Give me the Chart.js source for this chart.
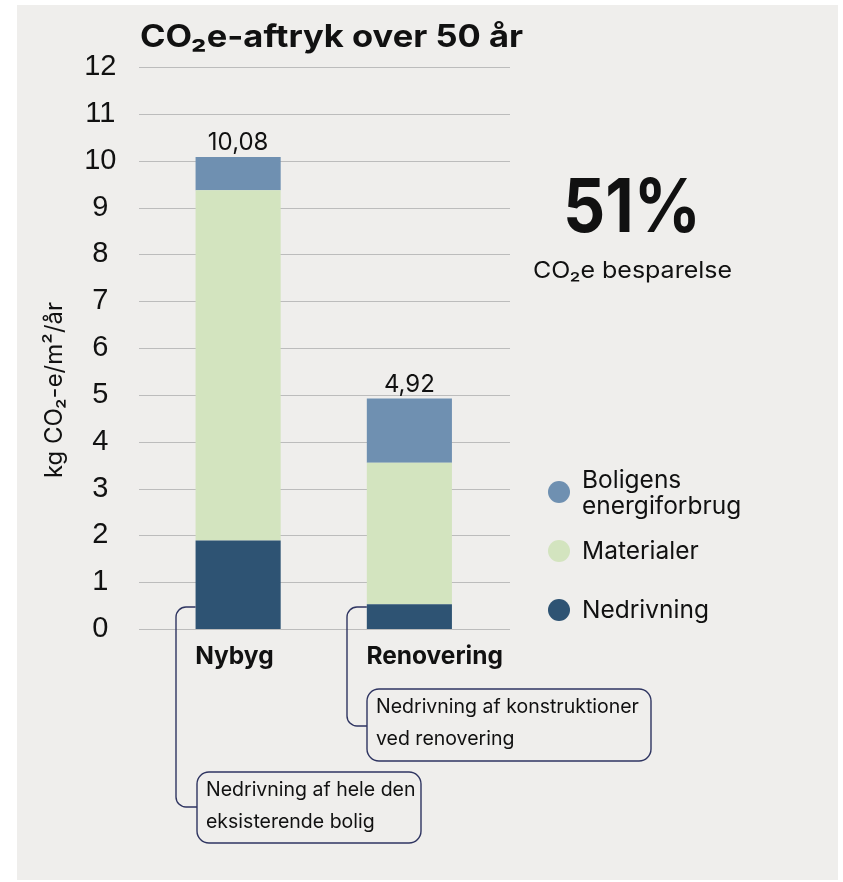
<!DOCTYPE html>
<html>
<head>
<meta charset="utf-8">
<script src="https://cdn.jsdelivr.net/npm/chart.js@4.4.1/dist/chart.umd.min.js"></script>
<style>
  html, body { margin: 0; padding: 0; background: #ffffff; }
  canvas { display: block; }
</style>
</head>
<body>
<canvas id="c" width="843" height="882"></canvas>
<script>
// Categories and stacked components (kg CO2-e/m²/år)
const categories = ['Nybyg', 'Renovering'];
const nedrivning = [1.89, 0.53];
const materialer = [7.48, 3.02];
const energi     = [0.71, 1.37];
const yTicks     = [0, 1, 2, 3, 4, 5, 6, 7, 8, 9, 10, 11, 12];
const seriesNames = ['Nedrivning', 'Materialer', 'Boligens energiforbrug'];
const legendLines = [['Nedrivning'], ['Materialer'], ['Boligens', 'energiforbrug']];
const savingText = '51%';
const savingLabel = 'CO\u2082e besparelse';
const titleText = 'CO\u2082e-aftryk over 50 år';
const axisTitle = 'kg CO\u2082-e/m\u00B2/år';
const notes = [
  ['Nedrivning af hele den', 'eksisterende bolig'],
  ['Nedrivning af konstruktioner', 'ved renovering']
];

const colors = ['#2e5373', '#d3e4bf', '#6f90b1'];
const BG = '#efeeec';
const INK = '#111111';
const NAVY = '#2f3561';
const FONT = 'Inter, "Liberation Sans", sans-serif';

const totals = categories.map((_, i) => nedrivning[i] + materialer[i] + energi[i]);
const fmt = v => v.toFixed(2).replace('.', ',');

// Draw text left-aligned at x, stretched horizontally to a given width
function fitText(ctx, text, x, y, width) {
  const w = ctx.measureText(text).width;
  ctx.save();
  ctx.translate(x, y);
  ctx.scale(width / w, 1);
  ctx.textAlign = 'left';
  ctx.fillText(text, 0, 0);
  ctx.restore();
}

// Panel background, gridlines, title, annotations
const backdrop = {
  id: 'backdrop',
  beforeDraw(chart) {
    const ctx = chart.ctx;
    ctx.save();
    ctx.fillStyle = '#ffffff';
    ctx.fillRect(0, 0, chart.width, chart.height);
    ctx.fillStyle = BG;
    ctx.fillRect(17, 5, 821, 875);
    ctx.restore();
  },
  beforeDatasetsDraw(chart) {
    const ctx = chart.ctx;
    const y = chart.scales.y;
    ctx.save();
    ctx.strokeStyle = '#bcbcbc';
    ctx.lineWidth = 1;
    yTicks.forEach(t => {
      const py = Math.round(y.getPixelForValue(t)) + 0.5;
      ctx.beginPath();
      ctx.moveTo(139, py);
      ctx.lineTo(510, py);
      ctx.stroke();
    });
    ctx.restore();
  },
  afterDraw(chart) {
    const ctx = chart.ctx;
    const y = chart.scales.y;
    ctx.save();
    // Title
    ctx.fillStyle = INK;
    ctx.textBaseline = 'alphabetic';
    ctx.font = 'bold 31px ' + FONT;
    fitText(ctx, titleText, 140, 47, 383);

    // Axis title (rotated)
    ctx.save();
    ctx.translate(62, 390);
    ctx.rotate(-Math.PI / 2);
    ctx.textAlign = 'center';
    ctx.font = '24px ' + FONT;
    ctx.fillText(axisTitle, 0, 0);
    ctx.restore();

    // Totals above the bars
    const meta = chart.getDatasetMeta(chart.data.datasets.length - 1);
    ctx.font = '24px ' + FONT;
    ctx.textAlign = 'center';
    totals.forEach((t, i) => {
      const bar = meta.data[i];
      ctx.fillText(fmt(t), bar.x, y.getPixelForValue(t) - 7);
    });

    // Saving figure
    ctx.font = 'bold 74px ' + FONT;
    fitText(ctx, savingText, 563, 232, 138);
    ctx.font = '23px ' + FONT;
    fitText(ctx, savingLabel, 533, 278, 199);

    // Legend (top to bottom: reverse stacking order)
    const legendY = [492, 551, 610];
    for (let k = 0; k < 3; k++) {
      const di = 2 - k;
      const cy = legendY[k];
      ctx.fillStyle = colors[di];
      ctx.beginPath();
      ctx.arc(559, cy, 11, 0, Math.PI * 2);
      ctx.fill();
      ctx.fillStyle = INK;
      ctx.textAlign = 'left';
      ctx.font = '24.5px ' + FONT;
      const lines = legendLines[di];
      if (lines.length === 2) {
        ctx.fillText(lines[0], 582, 488);
        ctx.fillText(lines[1], 582, 514);
      } else {
        ctx.fillText(lines[0], 582, cy + 8);
      }
    }

    // Callouts for the demolition segments
    const m0 = chart.getDatasetMeta(0);
    const callouts = [
      { bracketX: 176, joinY: 807, box: [197, 772, 224, 71] },
      { bracketX: 347, joinY: 726, box: [367, 689, 284, 72] }
    ];
    ctx.strokeStyle = NAVY;
    ctx.lineWidth = 1.4;
    callouts.forEach((c, i) => {
      const bar = m0.data[i];
      const left = bar.x - bar.width / 2;
      const topY = 607;
      const r = 10;
      ctx.beginPath();
      ctx.moveTo(left, topY);
      ctx.lineTo(c.bracketX + r, topY);
      ctx.arcTo(c.bracketX, topY, c.bracketX, topY + r, r);
      ctx.lineTo(c.bracketX, c.joinY - r);
      ctx.arcTo(c.bracketX, c.joinY, c.bracketX + r, c.joinY, r);
      ctx.lineTo(c.box[0], c.joinY);
      ctx.stroke();

      const [bx, by, bw, bh] = c.box;
      ctx.beginPath();
      ctx.roundRect(bx, by, bw, bh, 12);
      ctx.fillStyle = BG;
      ctx.fill();
      ctx.stroke();

      ctx.fillStyle = INK;
      ctx.font = '19.5px ' + FONT;
      ctx.textAlign = 'left';
      ctx.fillText(notes[i][0], bx + 9, by + 24);
      ctx.fillText(notes[i][1], bx + 9, by + 56);
    });
    ctx.restore();
  }
};

new Chart(document.getElementById('c'), {
  type: 'bar',
  data: {
    labels: categories,
    datasets: [
      { label: seriesNames[0], data: nedrivning, backgroundColor: colors[0] },
      { label: seriesNames[1], data: materialer, backgroundColor: colors[1] },
      { label: seriesNames[2], data: energi, backgroundColor: colors[2] }
    ]
  },
  options: {
    responsive: false,
    animation: false,
    devicePixelRatio: 1,
    layout: { padding: { top: 67, right: 348, bottom: 213, left: 0 } },
    datasets: { bar: { barPercentage: 1, categoryPercentage: 0.497, borderWidth: 0 } },
    plugins: { legend: { display: false }, tooltip: { enabled: false }, title: { display: false } },
    scales: {
      x: {
        stacked: true,
        grid: { display: false, drawTicks: false },
        border: { display: false },
        afterFit: s => { s.height = 40; },
        ticks: {
          align: 'start',
          labelOffset: -43,
          padding: 13,
          color: INK,
          font: { family: FONT, size: 24.5, weight: 'bold' }
        }
      },
      y: {
        stacked: true,
        min: 0,
        max: 12,
        afterFit: s => { s.width = 152.5; },
        afterBuildTicks: s => { s.ticks = yTicks.map(v => ({ value: v })); },
        grid: { display: false, drawTicks: false },
        border: { display: false },
        ticks: {
          crossAlign: 'center',
          padding: 36,
          color: INK,
          font: { family: '"Liberation Sans", Arial, sans-serif', size: 29 }
        }
      }
    }
  },
  plugins: [backdrop]
});
</script>
</body>
</html>
